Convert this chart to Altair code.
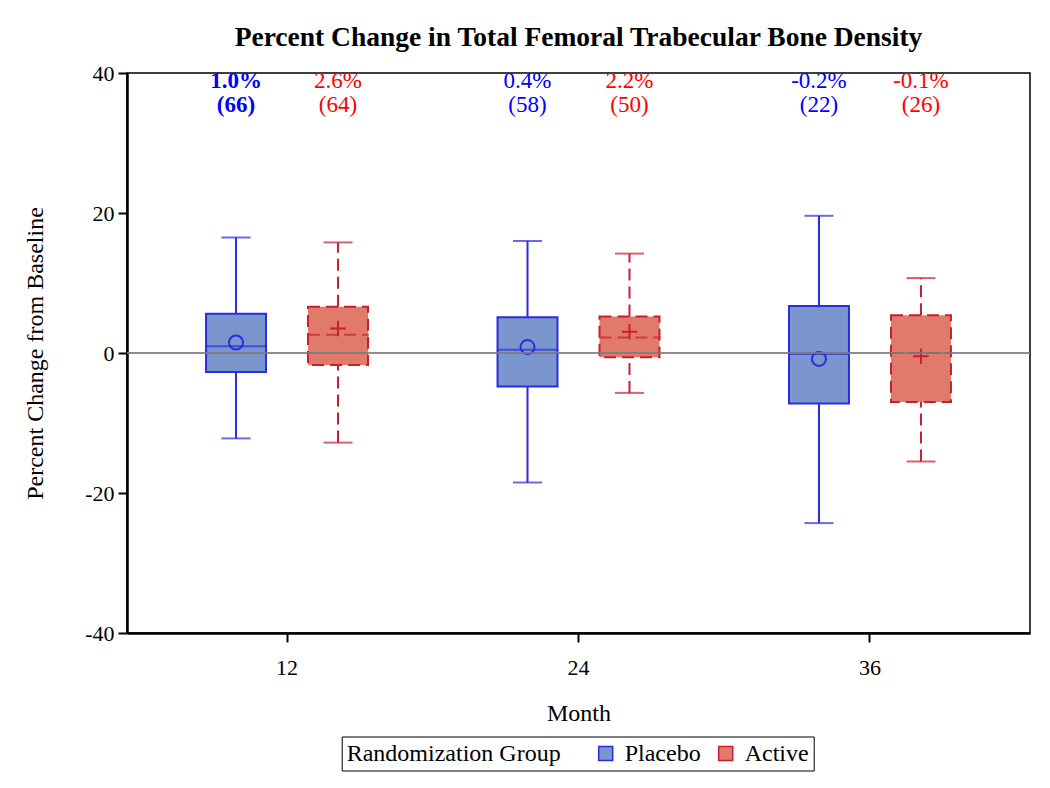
import altair as alt
import pandas as pd

# ---- data ----
months = ["12", "12", "24", "24", "36", "36"]
groups = ["Placebo", "Active", "Placebo", "Active", "Placebo", "Active"]
whisker_low = [-12.2, -12.8, -18.5, -5.7, -24.3, -15.5]
q1 = [-2.7, -1.7, -4.8, -0.6, -7.2, -7.0]
median = [0.95, 2.6, 0.45, 2.2, -0.15, 0.0]
q3 = [5.6, 6.6, 5.1, 5.2, 6.7, 5.4]
whisker_high = [16.5, 15.8, 16.0, 14.2, 19.6, 10.7]
mean = [1.5, 3.5, 0.85, 3.05, -0.85, -0.45]
pct_labels = ["1.0%", "2.6%", "0.4%", "2.2%", "-0.2%", "-0.1%"]
n_labels = ["(66)", "(64)", "(58)", "(50)", "(22)", "(26)"]
bold_label = [True, False, False, False, False, False]

df = pd.DataFrame({
    "month": months, "group": groups, "lo": whisker_low, "q1": q1,
    "med": median, "q3": q3, "hi": whisker_high, "mean": mean,
    "pct": pct_labels, "n": n_labels, "bold": bold_label,
})

FONT = "Liberation Serif"
BLUE_FILL, RED_FILL = "#7b96cc", "#e07b6c"
BLUE_LINE, RED_LINE = "#2b2be0", "#c81e32"
BLUE_TEXT, RED_TEXT = "#0000ff", "#ff0000"
order = ["Placebo", "Active"]
is_active = alt.datum.group == "Active"

X = alt.X("month:N", sort=["12", "24", "36"],
          scale=alt.Scale(paddingInner=0, paddingOuter=0.049),
          axis=alt.Axis(title="Month", labelAngle=0, tickSize=9, labelPadding=15,
                        titlePadding=23, domainWidth=2.5, tickWidth=2))
XO = alt.XOffset("group:N", sort=order,
                 scale=alt.Scale(domain=order, paddingInner=0.412, paddingOuter=0.635))
Y = alt.Y("q1:Q", scale=alt.Scale(domain=[-40, 40], nice=False),
          axis=alt.Axis(title="Percent Change from Baseline", values=[-40, -20, 0, 20, 40],
                        labelExpr="'' + datum.value",
                        tickSize=9, labelPadding=4, titlePadding=37, domainWidth=2.5,
                        tickWidth=2))

dash = alt.condition(is_active, alt.value([12, 6]), alt.value([1, 0]))
line_col = alt.condition(is_active, alt.value(RED_LINE), alt.value(BLUE_LINE))
text_col = alt.condition(is_active, alt.value(RED_TEXT), alt.value(BLUE_TEXT))

leg = alt.Legend(orient="none", legendX=214.7, legendY=663.5, direction="horizontal",
                 titleOrient="left", strokeColor="black", fillColor="white", padding=5,
                 titlePadding=33, columnPadding=13, labelOffset=7, symbolType="square",
                 symbolSize=196, symbolStrokeWidth=1.5, titleFontSize=24, labelFontSize=24,
                 titleFont=FONT, labelFont=FONT, titleFontWeight="normal",
                 titleColor="black", labelColor="black", titleLimit=500, labelLimit=300)

base = alt.Chart(df)

boxes = base.mark_bar(strokeWidth=2).encode(
    x=X, xOffset=XO, y=Y, y2="q3:Q",
    fill=alt.Fill("group:N", sort=order, title="Randomization Group",
                  scale=alt.Scale(domain=order, range=[BLUE_FILL, RED_FILL]), legend=leg),
    stroke=alt.Stroke("group:N", sort=order, title="Randomization Group",
                      scale=alt.Scale(domain=order, range=[BLUE_LINE, RED_LINE]), legend=leg),
    strokeDash=dash,
)

wlow = base.mark_rule(strokeWidth=2).encode(
    x=X, xOffset=XO, y="lo:Q", y2="q1:Q", stroke=line_col, strokeDash=dash)
whigh = base.mark_rule(strokeWidth=2).encode(
    x=X, xOffset=XO, y="q3:Q", y2="hi:Q", stroke=line_col, strokeDash=dash)

cap_lo = base.mark_tick(size=29, thickness=2, orient="horizontal").encode(
    x=X, xOffset=XO, y="lo:Q", color=line_col)
cap_hi = base.mark_tick(size=29, thickness=2, orient="horizontal").encode(
    x=X, xOffset=XO, y="hi:Q", color=line_col)

med = base.mark_tick(size=60, thickness=0.01, orient="horizontal", filled=False,
                     strokeWidth=2).encode(
    x=X, xOffset=XO, y="med:Q", stroke=line_col, strokeDash=dash)

plus_path = "M-1,0L1,0M0,-1L0,1"
means = base.mark_point(filled=False, strokeWidth=2, opacity=1).encode(
    x=X, xOffset=XO, y="mean:Q",
    shape=alt.condition(is_active, alt.value(plus_path), alt.value("circle")),
    size=alt.condition(is_active, alt.value(240), alt.value(196)),
    stroke=line_col,
)

zero = alt.Chart().mark_rule(color="#7a7a7a", strokeWidth=2, opacity=0.85).encode(
    y=alt.datum(0))

def labels(field, ypos, bold):
    return base.transform_filter(
        alt.datum.bold if bold else ~alt.datum.bold
    ).mark_text(font=FONT, fontSize=23, baseline="middle",
                fontWeight="bold" if bold else "normal").encode(
        x=X, xOffset=XO, y=alt.datum(ypos), text=f"{field}:N", color=text_col)

texts = [labels("pct", 38.9, False), labels("pct", 38.9, True),
         labels("n", 35.5, False), labels("n", 35.5, True)]

chart = alt.layer(boxes, wlow, whigh, cap_lo, cap_hi, med, means, zero, *texts).properties(
    width=903, height=560,
    padding={"left": 119, "top": 65, "right": 12, "bottom": 147},
    autosize=alt.AutoSizeParams(type="none"),
    background="white",
    title=alt.TitleParams(
        "Percent Change in Total Femoral Trabecular Bone Density",
        font=FONT, fontSize=27.5, fontWeight="bold", color="black",
        anchor="middle", baseline="alphabetic", offset=-11),
).configure_view(stroke="black", strokeWidth=1.5).configure_axis(
    labelFont=FONT, labelFontSize=22, labelColor="black",
    titleFont=FONT, titleFontSize=24, titleFontWeight="normal", titleColor="black",
    domainColor="black", tickColor="black", grid=False,
)

chart.save("out.html", embed_options={"renderer": "svg", "actions": False})
